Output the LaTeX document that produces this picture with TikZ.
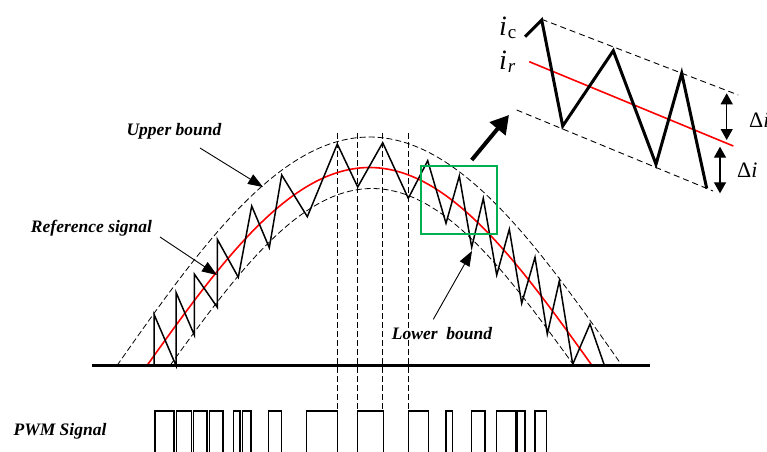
\documentclass[tikz,border=0pt]{standalone}
\usepackage{fontspec}
\setmainfont{Liberation Serif}
\usetikzlibrary{arrows.meta}
\definecolor{boxgreen}{RGB}{0,176,80}
\begin{document}
\begin{tikzpicture}[x=1pt,y=-1pt,
  lbl/.style={font=\fontsize{17.5}{20}\selectfont\bfseries\itshape, inner sep=0pt},
  bnd/.style={dash pattern=on 6pt off 3pt, line width=0.8pt},
  vdash/.style={dash pattern=on 6pt off 3pt, line width=0.9pt},
  zig/.style={line width=1.5pt, line join=miter},
  refsig/.style={red, line width=1.6pt},
  pulse/.style={line width=1.2pt},
  callout/.style={line width=0.9pt, -{Triangle[length=15pt,width=11pt]}},
  dbl/.style={line width=1.3pt, {Triangle[length=11pt,width=12pt]}-{Triangle[length=11pt,width=12pt]}},
  sym/.style={inner sep=0pt, anchor=base west}
]
\useasboundingbox (0,0) rectangle (767,451);

% vertical dashed guides
\foreach \vx in {337.3,357.5,382.7,408.3}
  \draw[vdash] (\vx,133) -- (\vx,411);

% bounds
\draw[bnd, domain=117:622, samples=120] plot (\x, {365.5-228.5*sin((\x-117)/505*180)});
\draw[bnd, domain=170:574, samples=120] plot (\x, {365.5-177*sin((\x-170)/404*180)});

% reference signal
\draw[refsig, domain=147:592, samples=120] plot (\x, {365.5-198*sin((\x-147)/445*180)});

% zigzag current
\draw[zig] (154,365.5) -- (154,314.3) -- (176,365.5) -- (176,292.3) -- (194.3,335) -- (194.3,274)
  -- (217.3,307.3) -- (217.3,239.3) -- (238.3,277.3) -- (251.7,206) -- (269.3,247.7) -- (281.7,175)
  -- (307.3,216.7) -- (337.3,144) -- (357.7,187) -- (382.7,142.7) -- (408.3,198.3) -- (427.7,160.7)
  -- (446,223.3) -- (459.3,176) -- (471.7,247.3) -- (483.3,198.3) -- (496.7,275) -- (509.3,229.3)
  -- (521.7,303.3) -- (535,257.3) -- (547.3,334) -- (559.3,281) -- (572.7,364.3) -- (590,324)
  -- (604,364.3);

% baseline
\draw[line width=3pt] (92,365.5) -- (650,365.5);

% green box
\draw[boxgreen, line width=1.6pt] (420.7,165.7) rectangle (496.7,234);
\coordinate (boxtop) at (471.7,160);

% labels and callouts
\node[lbl] (ub) at (174,131) {Upper bound};
\coordinate (ubtip) at (263,187);
\draw[callout] (200,148) -- (ubtip);

\node[lbl] (rs) at (91.5,228) {Reference signal};
\coordinate (rstip) at (217,275);
\draw[callout] (160,237) -- (rstip);

\node[lbl] (lb) at (442,334) {Lower\ \ bound};
\coordinate (lbtip) at (472,251);
\draw[callout] (433.3,319.3) -- (lbtip);

\node[lbl] (pwm) at (60,431) {PWM Signal};

% PWM pulses
\foreach \a/\b in {155/174,176.5/191.5,193.5/207,209.5/223,233.5/240,242.5/251,268.3/281.7,306.7/337.7,357.3/383.3,408.3/428.3,446/452.7,471.7/485,496.7/516,517.3/525,535/546.7}
  \draw[pulse] (\a,453) -- (\a,411) -- (\b,411) -- (\b,453);

% inset
\coordinate (insarrow) at (509,115);
\draw[line width=4pt, -{Triangle[length=18pt,width=20pt]}] (boxtop) -- (insarrow);

\draw[dash pattern=on 6pt off 4pt, line width=0.9pt] (541.7,19.3) -- (738.3,95);
\draw[dash pattern=on 6pt off 4pt, line width=0.9pt] (516.7,110) -- (713,191);
\draw[red, line width=1.6pt] (529.3,61.7) -- (733.3,146);
\draw[line width=3pt, line join=miter] (525,36.7) -- (541.7,20) -- (562.7,126) -- (613.3,50.7)
  -- (656,164.3) -- (681.7,73.3) -- (706.7,188.3);

\node[sym] (ic) at (499,35) {\fontsize{28}{30}\selectfont\itshape i\hspace{1pt}\raisebox{-3pt}{\upshape\fontsize{19}{20}\selectfont c}};
\node[sym] (ir) at (499,69) {\fontsize{28}{30}\selectfont\itshape i\hspace{1pt}\raisebox{-3pt}{\fontsize{19}{20}\selectfont r}};

\coordinate (d1a) at (726.7,93.3);
\coordinate (d1b) at (726.7,140);
\coordinate (d2a) at (720,146.7);
\coordinate (d2b) at (720,193.3);
\draw[dbl] (d1a) -- (d1b);
\draw[dbl] (d2a) -- (d2b);
\node[sym] (di1) at (749,127) {\fontsize{22}{24}\selectfont Δ\itshape i};
\node[sym] (di2) at (737,177) {\fontsize{22}{24}\selectfont Δ\itshape i};
\end{tikzpicture}
\end{document}
